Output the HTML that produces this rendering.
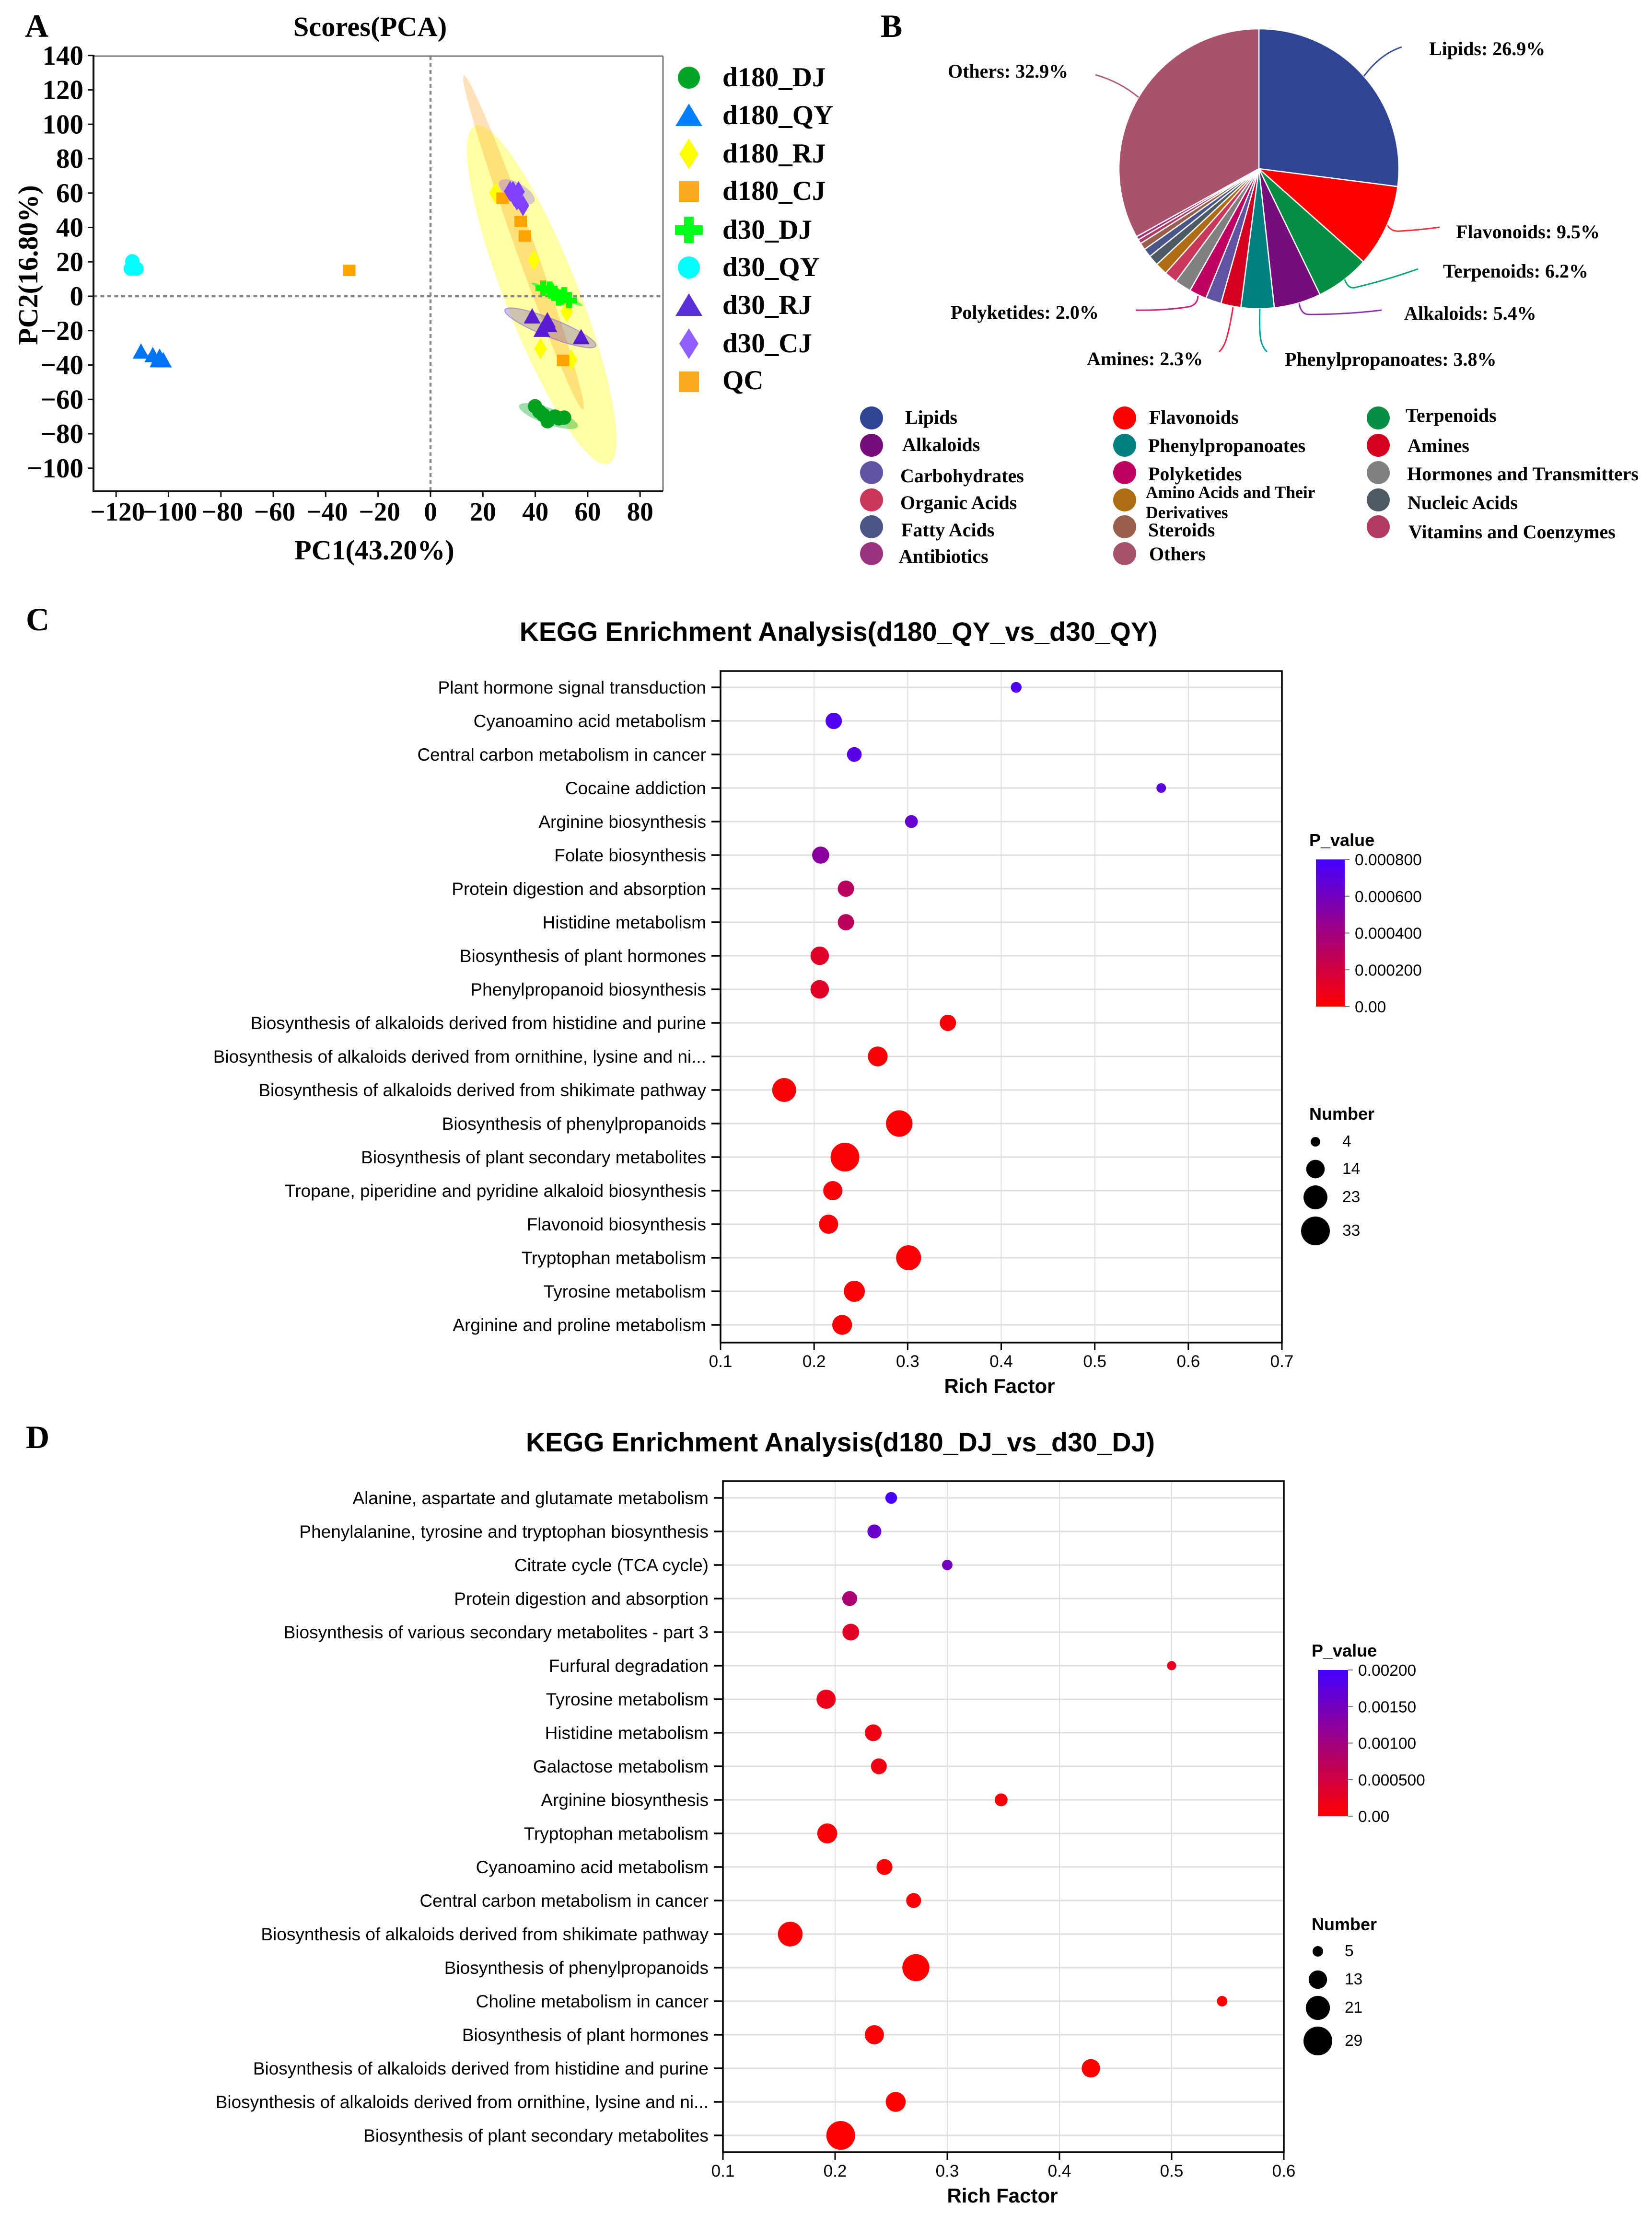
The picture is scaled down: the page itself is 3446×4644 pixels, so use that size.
<!DOCTYPE html>
<html lang="en">
<head>
<meta charset="utf-8">
<title>Metabolomics figure</title>
<style>
html,body{margin:0;padding:0;background:#fff}
svg{display:block}
.serif{font-family:"Liberation Serif",serif;font-weight:bold;fill:#000}
.sans{font-family:"Liberation Sans",sans-serif;fill:#000}
.bold{font-weight:bold}
</style>
</head>
<body>
<svg id="fig" xmlns="http://www.w3.org/2000/svg" width="3446" height="4644" viewBox="0 0 3446 4644">
<defs>
<linearGradient id="pgrad" x1="0" y1="0" x2="0" y2="1">
<stop offset="0" stop-color="#4400ff"/><stop offset="1" stop-color="#ff0000"/>
</linearGradient>
</defs>
<rect width="3446" height="4644" fill="#fff"/>

<text class="serif" x="52" y="77" font-size="68">A</text>
<text class="serif" x="1837" y="77" font-size="68">B</text>
<text class="serif" x="54" y="1315" font-size="68">C</text>
<text class="serif" x="54" y="3021" font-size="68">D</text>

<!-- Panel A -->
<g id="pca">
<text class="serif" x="772" y="75" font-size="58.5" text-anchor="middle">Scores(PCA)</text>
<text class="serif" x="781" y="1167" font-size="58" text-anchor="middle">PC1(43.20%)</text>
<text class="serif" transform="translate(78,553) rotate(-90)" font-size="58" text-anchor="middle">PC2(16.80%)</text>
<ellipse cx="1130" cy="615" rx="76" ry="379" transform="rotate(-21.5 1130 615)" fill="#ffff00" fill-opacity=".36"/>
<ellipse cx="1092" cy="506" rx="20" ry="370" transform="rotate(-19.65 1092 506)" fill="#ff9a1a" fill-opacity=".3"/>
<ellipse cx="1148" cy="684" rx="102" ry="19" transform="rotate(21.6 1148 684)" fill="#5a35c0" fill-opacity=".3" stroke="#7a50e0" stroke-opacity=".5" stroke-width="2"/>
<ellipse cx="1144" cy="868" rx="65" ry="17" transform="rotate(19.6 1144 868)" fill="#00a828" fill-opacity=".38"/>
<ellipse cx="1162" cy="614" rx="58" ry="6" transform="rotate(24 1162 614)" fill="#00ff1a" fill-opacity=".6"/>
<ellipse cx="1078" cy="400" rx="42" ry="18" transform="rotate(30 1078 400)" fill="#9060ff" fill-opacity=".35"/>
<ellipse cx="328" cy="752" rx="34" ry="6" transform="rotate(25 328 752)" fill="#0080ff" fill-opacity=".35"/>
<line x1="195" y1="618" x2="1383" y2="618" stroke="#8a8a8a" stroke-width="4.5" stroke-dasharray="8 6.5"/>
<line x1="898" y1="117" x2="898" y2="1025" stroke="#8a8a8a" stroke-width="4.5" stroke-dasharray="8 6.5"/>
<line x1="195" y1="117" x2="1383" y2="117" stroke="#777" stroke-width="3"/>
<line x1="1383" y1="117" x2="1383" y2="1025" stroke="#777" stroke-width="3"/>
<line x1="195" y1="115" x2="195" y2="1027" stroke="#111" stroke-width="4"/>
<line x1="193" y1="1025" x2="1383" y2="1025" stroke="#111" stroke-width="4"/>
<g>
<ellipse cx="1437" cy="162" rx="23" ry="23" fill="#03a526"/>
<text class="serif" x="1507" y="180" font-size="57">d180_DJ</text>
<polygon points="1437,216 1465,263 1409,263" fill="#0080ff"/>
<text class="serif" x="1507" y="259" font-size="57">d180_QY</text>
<polygon points="1437,289 1457,321 1437,353 1417,321" fill="#ffff00"/>
<text class="serif" x="1507" y="339" font-size="57">d180_RJ</text>
<rect x="1416" y="378" width="42" height="43" fill="#fca922"/>
<text class="serif" x="1507" y="417" font-size="57">d180_CJ</text>
<path d="M1427 452h20v18h19v20h-19v17h-20v-17h-19v-20h19z" fill="#00ff1a"/>
<text class="serif" x="1507" y="498" font-size="57">d30_DJ</text>
<ellipse cx="1437" cy="558" rx="23" ry="23" fill="#00ffff"/>
<text class="serif" x="1507" y="576" font-size="57">d30_QY</text>
<polygon points="1437,612 1465,659 1409,659" fill="#5a2ed8"/>
<text class="serif" x="1507" y="655" font-size="57">d30_RJ</text>
<polygon points="1437,685 1457,717 1437,749 1417,717" fill="#9060ff"/>
<text class="serif" x="1507" y="735" font-size="57">d30_CJ</text>
<rect x="1416" y="775" width="42" height="43" fill="#fca922"/>
<text class="serif" x="1507" y="812" font-size="57">QC</text>
</g>
</g>

<!-- Panel B -->
<g id="pie"></g>
<g fill="none" stroke-width="3">
<path d="M2845 159Q2880 112 2924 98" stroke="#3a5098"/>
<path d="M2894 470Q2903 484 2920 482Q2960 480 3003 474" stroke="#f0303a"/>
<path d="M2805 583Q2812 603 2826 600Q2890 585 2958 561" stroke="#00a878"/>
<path d="M2710 633Q2714 656 2730 656Q2810 656 2882 647" stroke="#8c35a8"/>
<path d="M2628 644Q2626 700 2632 716Q2636 728 2643 734" stroke="#00a0a0"/>
<path d="M2572 641Q2566 680 2558 708Q2552 726 2543 734" stroke="#e82850"/>
<path d="M2499 617Q2498 636 2480 640Q2430 648 2369 647" stroke="#d02080"/>
<path d="M2375 203Q2335 170 2285 156" stroke="#b06078"/>
</g>
<g>
<text class="serif" x="2981" y="115" font-size="40">Lipids: 26.9%</text>
<text class="serif" x="1977" y="162" font-size="40">Others: 32.9%</text>
<text class="serif" x="3037" y="497" font-size="40">Flavonoids: 9.5%</text>
<text class="serif" x="3010" y="579" font-size="40">Terpenoids: 6.2%</text>
<text class="serif" x="2929" y="667" font-size="40">Alkaloids: 5.4%</text>
<text class="serif" x="2680" y="763" font-size="40">Phenylpropanoates: 3.8%</text>
<text class="serif" x="2267" y="762" font-size="40">Amines: 2.3%</text>
<text class="serif" x="1983" y="665" font-size="40">Polyketides: 2.0%</text>
</g>
<g font-size="40">
<circle cx="1818" cy="872" r="24" fill="#2f4593"/>
<text class="serif" x="1888" y="884">Lipids</text>
<circle cx="1818" cy="929" r="24" fill="#750e7b"/>
<text class="serif" x="1882" y="941">Alkaloids</text>
<circle cx="1818" cy="986" r="24" fill="#6252a2"/>
<text class="serif" x="1878" y="1006">Carbohydrates</text>
<circle cx="1818" cy="1043" r="24" fill="#c9385a"/>
<text class="serif" x="1878" y="1062">Organic Acids</text>
<circle cx="1818" cy="1099" r="24" fill="#4a5688"/>
<text class="serif" x="1880" y="1119">Fatty Acids</text>
<circle cx="1818" cy="1155" r="24" fill="#9a3280"/>
<text class="serif" x="1875" y="1174">Antibiotics</text>
<circle cx="2346" cy="872" r="24" fill="#ff0000"/>
<text class="serif" x="2397" y="884">Flavonoids</text>
<circle cx="2346" cy="929" r="24" fill="#008080"/>
<text class="serif" x="2395" y="943">Phenylpropanoates</text>
<circle cx="2346" cy="986" r="24" fill="#bf0060"/>
<text class="serif" x="2395" y="1002">Polyketides</text>
<circle cx="2346" cy="1043" r="24" fill="#ae6c14"/>
<text class="serif" x="2390" y="1039" font-size="35.5">Amino Acids and Their</text>
<text class="serif" x="2390" y="1081" font-size="35.5">Derivatives</text>
<circle cx="2346" cy="1099" r="24" fill="#985f4c"/>
<text class="serif" x="2395" y="1119">Steroids</text>
<circle cx="2346" cy="1155" r="24" fill="#a8526c"/>
<text class="serif" x="2397" y="1169">Others</text>
<circle cx="2875" cy="872" r="24" fill="#068e44"/>
<text class="serif" x="2932" y="880">Terpenoids</text>
<circle cx="2875" cy="929" r="24" fill="#d5001f"/>
<text class="serif" x="2936" y="943">Amines</text>
<circle cx="2875" cy="986" r="24" fill="#808080"/>
<text class="serif" x="2935" y="1002">Hormones and Transmitters</text>
<circle cx="2875" cy="1043" r="24" fill="#4c5a66"/>
<text class="serif" x="2936" y="1062">Nucleic Acids</text>
<circle cx="2875" cy="1099" r="24" fill="#b03a62"/>
<text class="serif" x="2938" y="1123">Vitamins and Coenzymes</text>
</g>

<!-- Panel C -->
<g id="kegg-c">
<text class="sans bold" x="1749" y="1337" font-size="55.5" text-anchor="middle">KEGG Enrichment Analysis(d180_QY_vs_d30_QY)</text>
<text class="sans bold" x="2085" y="2906" font-size="42" text-anchor="middle">Rich Factor</text>
<text class="sans bold" x="2731" y="1765" font-size="36">P_value</text>
<rect x="2745" y="1793" width="60" height="307" fill="url(#pgrad)"/>
<text class="sans bold" x="2731" y="2336" font-size="36">Number</text>
</g>

<!-- Panel D -->
<g id="kegg-d">
<text class="sans bold" x="1753" y="3028" font-size="55.5" text-anchor="middle">KEGG Enrichment Analysis(d180_DJ_vs_d30_DJ)</text>
<text class="sans bold" x="2091" y="4595" font-size="42" text-anchor="middle">Rich Factor</text>
<text class="sans bold" x="2736" y="3456" font-size="36">P_value</text>
<rect x="2749" y="3484" width="63" height="305" fill="url(#pgrad)"/>
<text class="sans bold" x="2736" y="4027" font-size="36">Number</text>
</g>
</svg>

<script>
// ---------- Panel A data ----------
const pcaXTicks = [-120,-100,-80,-60,-40,-20,0,20,40,60,80];
const pcaYTicks = [140,120,100,80,60,40,20,0,-20,-40,-60,-80,-100];
const d180DjX = [39.9,43,44.7,47.5,51,49,41.5];
const d180DjY = [-64,-69,-72.7,-70,-70.6,-71,-67];
const d180QyX = [-110.5,-106,-103.4,-104,-102];
const d180QyY = [-33,-35,-36,-38,-38];
const d180RjX = [24.8,39.5,52,42,53.7];
const d180RjY = [60,21,-9,-30.5,-37];
const d180CjX = [27.5,34.4,36,50.6,-31];
const d180CjY = [57,43.5,35,-37.3,15];
const d30DjX = [43,45.5,47.4,48.9,51,52.9,46,50];
const d30DjY = [4.7,4.1,1.7,-1,0.8,-2.4,3,-0.5];
const d30QyX = [-113.8,-114.4,-112.2];
const d30QyY = [20.3,16,16];
const d30RjX = [38.8,44.6,45.2,42.5,57.5];
const d30RjY = [-12.5,-14.8,-17.5,-20.3,-24.6];
const d30CjX = [30.4,33.6,32,33,35.3,31.5];
const d30CjY = [61,60.8,58,56,52.7,61];

// ---------- Panel B data ----------
const pieCategories = ['Lipids','Flavonoids','Terpenoids','Alkaloids','Phenylpropanoates','Amines','Carbohydrates','Polyketides','Hormones and Transmitters','Organic Acids','Amino Acids and Their Derivatives','Nucleic Acids','Fatty Acids','Steroids','Vitamins and Coenzymes','Antibiotics','Others'];
const pieValues = [26.9,9.5,6.2,5.4,3.8,2.3,1.8,2.0,1.9,1.5,1.4,1.2,1.0,0.8,0.5,0.4,32.9];
const pieColors = ['#2f4593','#ff0000','#068e44','#750e7b','#008080','#d5001f','#6252a2','#bf0060','#808080','#c9385a','#ae6c14','#4c5a66','#4a5688','#985f4c','#b03a62','#9a3280','#a8526c'];

// ---------- Panel C data ----------
const cCategories = ['Plant hormone signal transduction','Cyanoamino acid metabolism','Central carbon metabolism in cancer','Cocaine addiction','Arginine biosynthesis','Folate biosynthesis','Protein digestion and absorption','Histidine metabolism','Biosynthesis of plant hormones','Phenylpropanoid biosynthesis','Biosynthesis of alkaloids derived from histidine and purine','Biosynthesis of alkaloids derived from ornithine, lysine and ni...','Biosynthesis of alkaloids derived from shikimate pathway','Biosynthesis of phenylpropanoids','Biosynthesis of plant secondary metabolites','Tropane, piperidine and pyridine alkaloid biosynthesis','Flavonoid biosynthesis','Tryptophan metabolism','Tyrosine metabolism','Arginine and proline metabolism'];
const cRichFactor = [.416,.221,.243,.571,.304,.207,.234,.234,.206,.206,.343,.268,.168,.291,.233,.220,.2155,.301,.243,.230];
const cNumber = [5,11,9,4,7,12,11,11,14,14,11,16,23,28,33,15,15,25,18,16];
const cPValue = [.00076,.00075,.00072,.00070,.00065,.00050,.00030,.00029,.00013,.00012,.00003,.00002,.00001,.00001,.00001,.00002,.00002,.00001,.00001,.00001];
const cXTicks = ['0.1','0.2','0.3','0.4','0.5','0.6','0.7'];
const cColorValues = [.0008,.0006,.0004,.0002,0];
const cColorLabels = ['0.000800','0.000600','0.000400','0.000200','0.00'];
const cSizeLegend = [4,14,23,33];

// ---------- Panel D data ----------
const dCategories = ['Alanine, aspartate and glutamate metabolism','Phenylalanine, tyrosine and tryptophan biosynthesis','Citrate cycle (TCA cycle)','Protein digestion and absorption','Biosynthesis of various secondary metabolites - part 3','Furfural degradation','Tyrosine metabolism','Histidine metabolism','Galactose metabolism','Arginine biosynthesis','Tryptophan metabolism','Cyanoamino acid metabolism','Central carbon metabolism in cancer','Biosynthesis of alkaloids derived from shikimate pathway','Biosynthesis of phenylpropanoids','Choline metabolism in cancer','Biosynthesis of plant hormones','Biosynthesis of alkaloids derived from histidine and purine','Biosynthesis of alkaloids derived from ornithine, lysine and ni...','Biosynthesis of plant secondary metabolites'];
const dRichFactor = [.25,.235,.30,.213,.214,.50,.192,.234,.239,.348,.193,.244,.27,.16,.272,.545,.235,.428,.254,.205];
const dNumber = [6,8,5,9,11,4,14,11,10,7,15,10,9,22,26,5,14,13,15,29];
const dPValue = [.00195,.0016,.0015,.0009,.0003,.00025,.0002,.00015,.00015,.00007,.00005,.00004,.00003,.00002,.00001,.00002,.00002,.00001,.00001,.00001];
const dXTicks = ['0.1','0.2','0.3','0.4','0.5','0.6'];
const dColorValues = [.002,.0015,.001,.0005,0];
const dColorLabels = ['0.00200','0.00150','0.00100','0.000500','0.00'];
const dSizeLegend = [5,13,21,29];

const SVGNS = 'http://www.w3.org/2000/svg';
function make(tag, attrs, parent, text) {
  const n = document.createElementNS(SVGNS, tag);
  for (const k in attrs) n.setAttribute(k, attrs[k]);
  if (text !== undefined) n.textContent = text;
  parent.appendChild(n);
  return n;
}

// ---------- Panel A drawing ----------
const pcaRoot = document.getElementById('pca');
function pcaX(v) { return 898 + v * 5.465; }
function pcaY(v) { return 618 - v * 3.5875; }
function minus(v) { return String(v).replace('-', '\u2212'); }
pcaXTicks.forEach(function (v) {
  const t = make('line', {x1: pcaX(v), x2: pcaX(v), y1: 1025, y2: 1037, stroke: '#111', 'stroke-width': 3}, pcaRoot);
  
  
  const l = make('text', {x: pcaX(v) + (v < 0 ? 3 : 0), y: 1086, 'font-size': 55, 'text-anchor': 'middle', class: 'serif'}, pcaRoot, minus(v));
  
  
});
pcaYTicks.forEach(function (v) {
  const t = make('line', {x1: 183, x2: 195, y1: pcaY(v), y2: pcaY(v), stroke: '#111', 'stroke-width': 3}, pcaRoot);
  
  
  const l = make('text', {x: 174, y: pcaY(v) + 19, 'font-size': 57, 'text-anchor': 'end', class: 'serif'}, pcaRoot, minus(v));
  
  
});
function pcaCircle(xs, ys, fill, name) {
  xs.forEach(function (v, i) {
    const m = make('ellipse', {cx: pcaX(v), cy: pcaY(ys[i]), rx: 15, ry: 15, fill: fill}, pcaRoot);
    
    
  });
}
function pcaTriangle(xs, ys, fill, name) {
  xs.forEach(function (v, i) {
    const cx = pcaX(v), cy = pcaY(ys[i]);
    const m = make('polygon', {points: cx + ',' + (cy - 20) + ' ' + (cx + 17.5) + ',' + (cy + 12) + ' ' + (cx - 17.5) + ',' + (cy + 12), fill: fill}, pcaRoot);
    
    
  });
}
function pcaDiamond(xs, ys, fill, name) {
  xs.forEach(function (v, i) {
    const cx = pcaX(v), cy = pcaY(ys[i]);
    const m = make('polygon', {points: cx + ',' + (cy - 22) + ' ' + (cx + 13) + ',' + cy + ' ' + cx + ',' + (cy + 22) + ' ' + (cx - 13) + ',' + cy, fill: fill}, pcaRoot);
    
    
  });
}
function pcaSquare(xs, ys, fill, name) {
  xs.forEach(function (v, i) {
    const m = make('rect', {x: pcaX(v) - 13, y: pcaY(ys[i]) - 12, width: 26, height: 24, fill: fill}, pcaRoot);
    
    
  });
}
function pcaPlus(xs, ys, fill, name) {
  xs.forEach(function (v, i) {
    const cx = pcaX(v), cy = pcaY(ys[i]);
    const m = make('path', {d: 'M' + (cx - 6) + ' ' + (cy - 16) + 'h12v10h10v12h-10v10h-12v-10h-10v-12h10z', fill: fill}, pcaRoot);
    
    
  });
}
pcaDiamond(d180RjX, d180RjY, '#ffff00', 'point-d180-rj');
pcaSquare(d180CjX, d180CjY, '#ffa400', 'point-d180-cj');
pcaCircle(d180DjX, d180DjY, '#03a01e', 'point-d180-dj');
pcaTriangle(d180QyX, d180QyY, '#0074f5', 'point-d180-qy');
pcaPlus(d30DjX, d30DjY, '#00ff00', 'point-d30-dj');
pcaCircle(d30QyX, d30QyY, '#00ffff', 'point-d30-qy');
pcaTriangle(d30RjX, d30RjY, '#5a1cd0', 'point-d30-rj');
pcaDiamond(d30CjX, d30CjY, '#8040ff', 'point-d30-cj');

// ---------- Panel B drawing ----------
const pieRoot = document.getElementById('pie');
const pieTotal = pieValues.reduce(function (a, b) { return a + b; }, 0);
let pieAngle = 0;
pieValues.forEach(function (v, i) {
  const a0 = pieAngle;
  const a1 = pieAngle + v / pieTotal * 2 * Math.PI;
  pieAngle = a1;
  const cx = 2626, cy = 352, r = 292;
  const d = 'M' + cx + ' ' + cy + 'L' + (cx + r * Math.sin(a0)) + ' ' + (cy - r * Math.cos(a0)) +
    'A' + r + ' ' + r + ' 0 ' + (a1 - a0 > Math.PI ? 1 : 0) + ' 1 ' + (cx + r * Math.sin(a1)) + ' ' + (cy - r * Math.cos(a1)) + 'Z';
  const s = make('path', {d: d, fill: pieColors[i], stroke: '#fff', 'stroke-width': 2.5, 'stroke-linejoin': 'round'}, pieRoot);
  
  
  make('title', {}, s, pieCategories[i]);
});

// ---------- Panels C & D drawing ----------
function pColor(p, max) {
  const t = Math.max(0, Math.min(1, p / max));
  return 'rgb(' + Math.round(255 + (68 - 255) * t) + ',0,' + Math.round(255 * t) + ')';
}
function drawKegg(root, opt) {
  const xMin = 0.1;
  function sx(v) { return opt.left + (v - xMin) / (opt.xStep * (opt.xTicks.length - 1)) * (opt.right - opt.left); }
  function sy(i) { return opt.firstRow + i * 70; }
  opt.xTicks.forEach(function (label) {
    const x = sx(parseFloat(label));
    const g = make('line', {x1: x, x2: x, y1: opt.top, y2: opt.bottom, stroke: '#dedede', 'stroke-width': 2}, root);
    
    
    const t = make('line', {x1: x, x2: x, y1: opt.bottom, y2: opt.bottom + 16, stroke: '#000', 'stroke-width': 3}, root);
    
    
    const l = make('text', {x: x, y: opt.bottom + 51, 'font-size': 35, 'text-anchor': 'middle', class: 'sans'}, root, label);
    
    
  });
  opt.categories.forEach(function (c, i) {
    const y = sy(i);
    const g = make('line', {x1: opt.left, x2: opt.right, y1: y, y2: y, stroke: '#dedede', 'stroke-width': 3}, root);
    
    
    const t = make('line', {x1: opt.left - 19, x2: opt.left, y1: y, y2: y, stroke: '#000', 'stroke-width': 3.5}, root);
    
    
    const l = make('text', {x: opt.left - 30, y: y + 13, 'font-size': 37, 'text-anchor': 'end', class: 'sans'}, root, c);
    
    
  });
  const frame = make('rect', {x: opt.left, y: opt.top, width: opt.right - opt.left, height: opt.bottom - opt.top, fill: 'none', stroke: '#000', 'stroke-width': 3.5}, root);
  
  
  opt.categories.forEach(function (c, i) {
    const b = make('circle', {cx: sx(opt.rich[i]), cy: sy(i), r: opt.radius(opt.number[i]), fill: pColor(opt.p[i], opt.colorValues[0])}, root);
    
    
  });
  const barH = opt.barBottom - opt.barTop;
  opt.colorValues.forEach(function (v, i) {
    const y = opt.barBottom - v / opt.colorValues[0] * barH;
    const t = make('line', {x1: opt.barRight, x2: opt.barRight + 10, y1: y, y2: y, stroke: '#777', 'stroke-width': 2}, root);
    
    
    const l = make('text', {x: opt.barRight + 21, y: y + 12, 'font-size': 33.5, class: 'sans'}, root, opt.colorLabels[i]);
    
    
  });
  opt.sizeLegend.forEach(function (n, i) {
    const d = make('circle', {cx: opt.sizeX, cy: opt.sizeYs[i], r: opt.radius(n), fill: '#000'}, root);
    
    
    const l = make('text', {x: opt.sizeX + 56, y: opt.sizeYs[i] + 10, 'font-size': 33.5, class: 'sans'}, root, String(n));
    
    
  });
}
drawKegg(document.getElementById('kegg-c'), {
  left: 1503, right: 2674, top: 1400, bottom: 2801, firstRow: 1434, xStep: 0.1,
  xTicks: cXTicks, categories: cCategories, rich: cRichFactor, number: cNumber, p: cPValue,
  colorValues: cColorValues, colorLabels: cColorLabels, sizeLegend: cSizeLegend,
  barTop: 1793, barBottom: 2100, barRight: 2805, sizeX: 2744, sizeYs: [2382, 2439, 2498, 2568],
  radius: function (n) { return 5.35 * Math.sqrt(n) - 0.7; }
});
drawKegg(document.getElementById('kegg-d'), {
  left: 1508, right: 2678, top: 3090, bottom: 4490, firstRow: 3125, xStep: 0.1,
  xTicks: dXTicks, categories: dCategories, rich: dRichFactor, number: dNumber, p: dPValue,
  colorValues: dColorValues, colorLabels: dColorLabels, sizeLegend: dSizeLegend,
  barTop: 3484, barBottom: 3789, barRight: 2812, sizeX: 2749, sizeYs: [4071, 4130, 4189, 4258],
  radius: function (n) { return 6.03 * Math.sqrt(n) - 2.5; }
});
</script>
</body>
</html>
